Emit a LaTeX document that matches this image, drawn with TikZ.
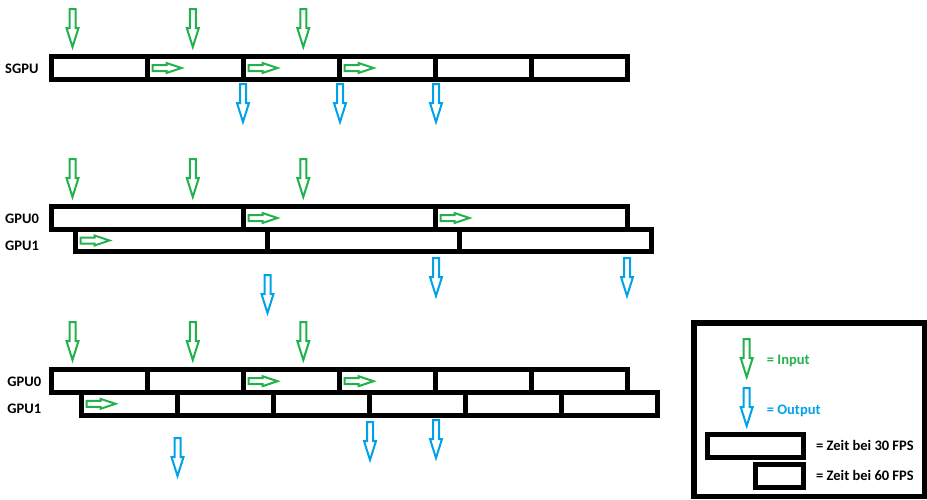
\documentclass[tikz,border=0pt]{standalone}
\usepackage{fontspec}
\setmainfont{Carlito}
\definecolor{ingreen}{HTML}{22B14C}
\definecolor{outblue}{HTML}{00A2E8}

\tikzset{
  pics/downarrow/.style={code={
    \draw[line width=2pt,line join=miter] (-3,1) -- (3,1) -- (3,20) -- (6,20) -- (0,39) -- (-6,20) -- (-3,20) -- cycle;}},
  pics/passarrow/.style={code={
    \draw[line width=2pt,ingreen] (5,-3) -- (19,-3) -- (19,-5) -- (34,0) -- (19,5) -- (19,3) -- (5,3) -- cycle;}}
}

\begin{document}
\begin{tikzpicture}[x=1pt,y=-1pt,font=\fontsize{14.5}{17}\selectfont\bfseries,
    cell/.style={draw,line width=5pt,minimum height=22.5pt,inner sep=0pt,outer sep=0pt},
    short/.style={cell,minimum width=96pt},
    long/.style={cell,minimum width=192pt},
    label/.style={anchor=base west,inner sep=0pt}]

    \useasboundingbox (0,0) rectangle (927,499);

    % SGPU
    \node[label] (lsgpu) at (5,73.3) {SGPU};
    \node[short] (s1) at (99.5,68) {};
    \node[short] (s2) at (195.5,68) {};
    \node[short] (s3) at (291.5,68) {};
    \node[short] (s4) at (387.5,68) {};
    \node[short] (s5) at (483.5,68) {};
    \node[short] (s6) at (579.5,68) {};

    \pic[ingreen] at (72.5,8) {downarrow};
    \pic[ingreen] at (192.8,8) {downarrow};
    \pic[ingreen] at (303.3,8) {downarrow};
    \pic at (s2.west) {passarrow};
    \pic at (s3.west) {passarrow};
    \pic at (s4.west) {passarrow};
    \pic[outblue] at (243,83) {downarrow};
    \pic[outblue] at (340,83) {downarrow};
    \pic[outblue] at (436,83) {downarrow};

    % GPU0 / GPU1, 30 FPS
    \node[label] (la0) at (5,223.3) {GPU0};
    \node[label] (la1) at (5,250.7) {GPU1};
    \node[long] (a1) at (147.5,218) {};
    \node[long] (a2) at (339.5,218) {};
    \node[long] (a3) at (531.5,218) {};
    \node[long] (b1) at (171.5,240.5) {};
    \node[long] (b2) at (363.5,240.5) {};
    \node[long] (b3) at (555.5,240.5) {};

    \pic[ingreen] at (72.5,158) {downarrow};
    \pic[ingreen] at (192.8,158) {downarrow};
    \pic[ingreen] at (303.3,158) {downarrow};
    \pic at (a2.west) {passarrow};
    \pic at (a3.west) {passarrow};
    \pic at (b1.west) {passarrow};
    \pic[outblue] at (267.5,274) {downarrow};
    \pic[outblue] at (436,257) {downarrow};
    \pic[outblue] at (627,257) {downarrow};

    % GPU0 / GPU1, 60 FPS
    \node[label] (lc0) at (7.3,386.7) {GPU0};
    \node[label] (lc1) at (7.3,413.3) {GPU1};
    \node[short] (c1) at (99.5,381.2) {};
    \node[short] (c2) at (195.5,381.2) {};
    \node[short] (c3) at (291.5,381.2) {};
    \node[short] (c4) at (387.5,381.2) {};
    \node[short] (c5) at (483.5,381.2) {};
    \node[short] (c6) at (579.5,381.2) {};
    \node[short] (d1) at (129.5,403.8) {};
    \node[short] (d2) at (225.5,403.8) {};
    \node[short] (d3) at (321.5,403.8) {};
    \node[short] (d4) at (417.5,403.8) {};
    \node[short] (d5) at (513.5,403.8) {};
    \node[short] (d6) at (609.5,403.8) {};

    \pic[ingreen] at (72.5,321) {downarrow};
    \pic[ingreen] at (192.8,321) {downarrow};
    \pic[ingreen] at (303.3,321) {downarrow};
    \pic at (c3.west) {passarrow};
    \pic at (c4.west) {passarrow};
    \pic at (d1.west) {passarrow};
    \pic[outblue] at (177.5,437) {downarrow};
    \pic[outblue] at (370,421) {downarrow};
    \pic[outblue] at (436,419) {downarrow};

    % legend
    \draw[line width=5.5pt] (693.8,322.8) rectangle (924.3,496.5);
    \pic[ingreen] at (746.7,338) {downarrow};
    \node[label,text=ingreen] (lin) at (766.7,364.3) {= Input};
    \pic[outblue] at (746.7,387) {downarrow};
    \node[label,text=outblue] (lout) at (766.7,414.3) {= Output};
    \node[cell,minimum width=95.7pt,minimum height=23.3pt] (k30) at (755.3,445.8) {};
    \node[label] (l30) at (816,450) {= Zeit bei 30 FPS};
    \node[cell,minimum width=48pt,minimum height=23.3pt] (k60) at (779.2,475.8) {};
    \node[label] (l60) at (816,480.7) {= Zeit bei 60 FPS};
\end{tikzpicture}
\end{document}
